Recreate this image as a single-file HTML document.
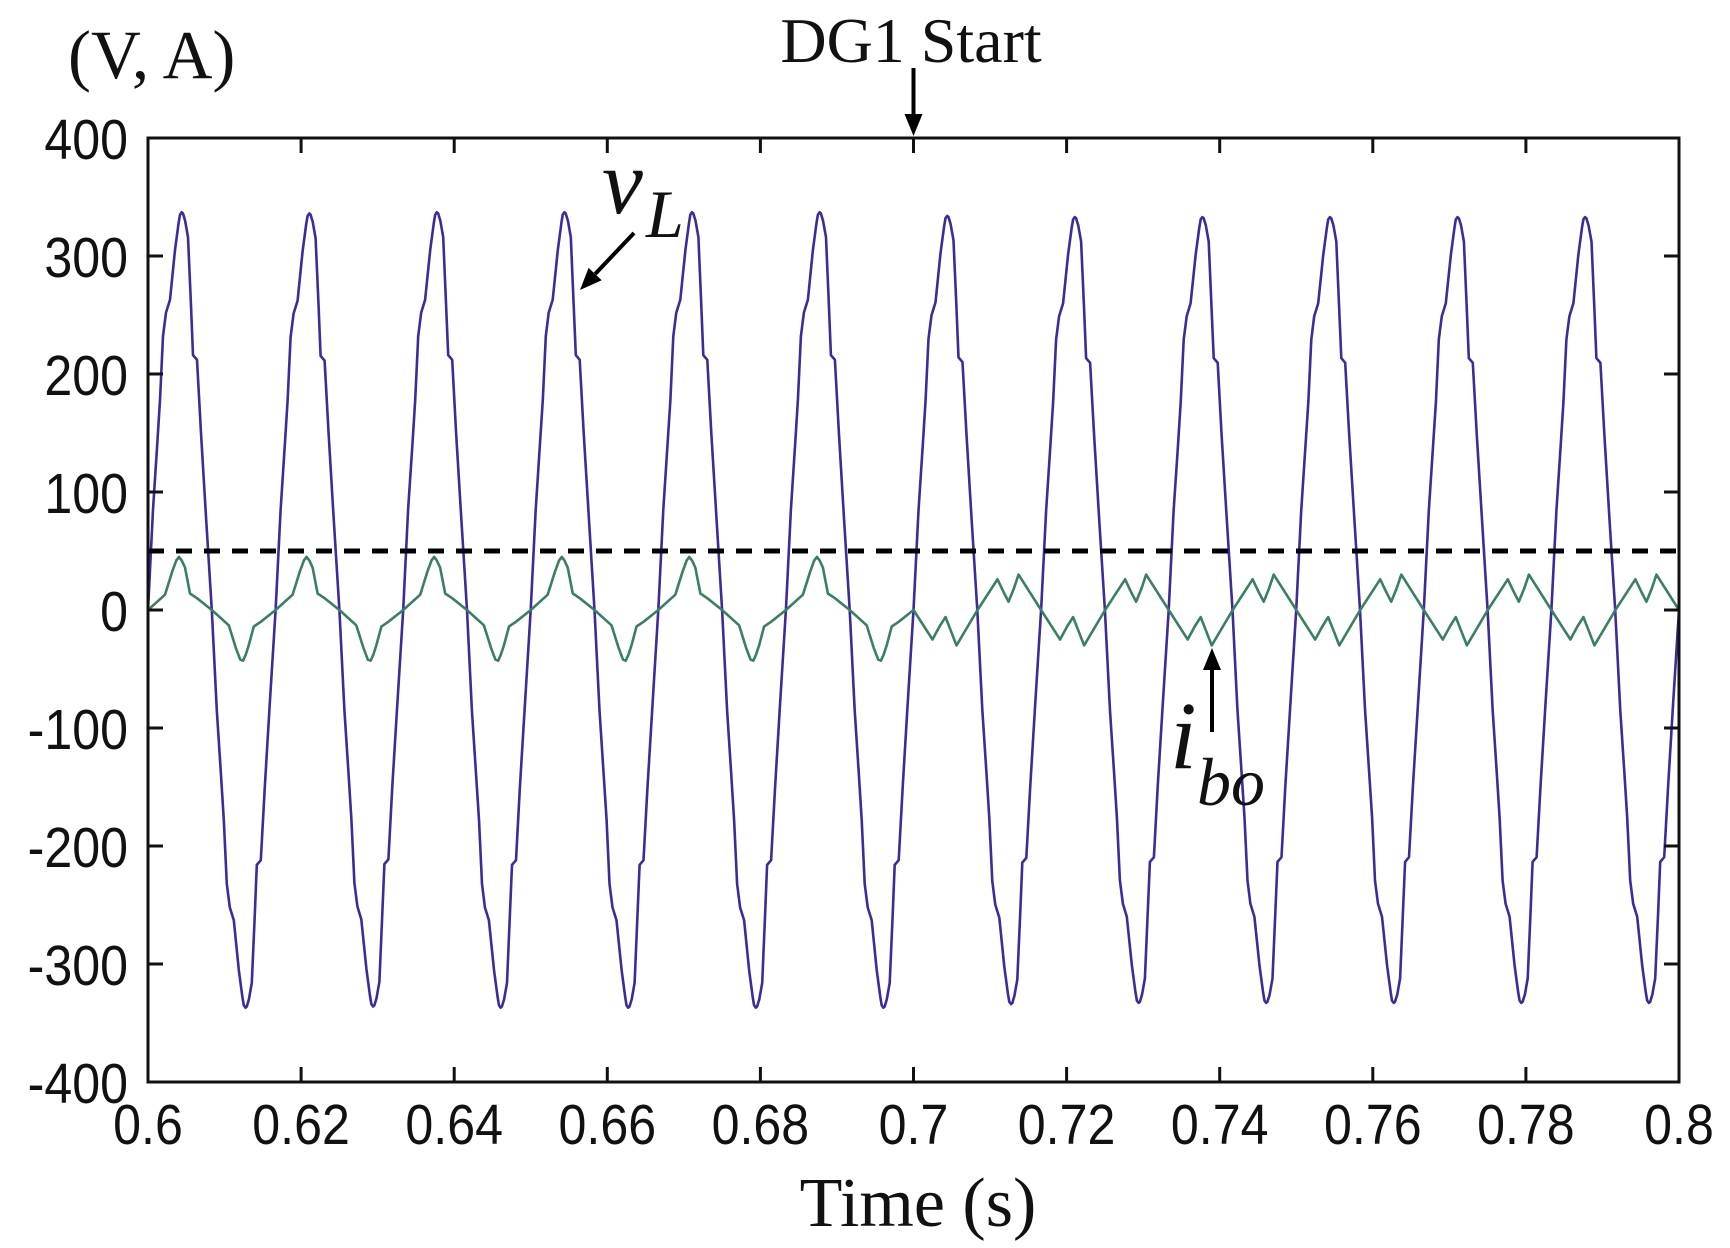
<!DOCTYPE html>
<html><head><meta charset="utf-8"><style>
html,body{margin:0;padding:0;background:#fff;}
svg{display:block;}
.tk{font-family:"Liberation Sans",sans-serif;font-size:57px;fill:#111;}
.sr{font-family:"Liberation Serif",serif;fill:#111;}
</style></head><body>
<svg id="chart" width="1730" height="1248" viewBox="0 0 1730 1248" xmlns="http://www.w3.org/2000/svg">
<g id="grid"></g>
<g id="series"></g>
<g id="axes"></g>
<g id="labels">
<text class="sr" x="68" y="78" font-size="69">(V, A)</text>
<text class="sr" x="911" y="62" font-size="64" text-anchor="middle">DG1 Start</text>
<text class="sr" x="918" y="1226" font-size="70" text-anchor="middle">Time (s)</text>
<g>
<text class="sr" x="602" y="213" font-size="92" font-style="italic">v</text>
<text class="sr" x="646" y="237" font-size="68" font-style="italic">L</text>
</g>
<g>
<text class="sr" x="1170" y="768" font-size="96" font-style="italic">i</text>
<text class="sr" x="1197" y="805" font-size="68" font-style="italic">bo</text>
</g>
</g>
</svg>
<script>
const xTicks=[0.6,0.62,0.64,0.66,0.68,0.7,0.72,0.74,0.76,0.78,0.8];
const xTickLabels=["0.6","0.62","0.64","0.66","0.68","0.7","0.72","0.74","0.76","0.78","0.8"];
const yTicks=[-400,-300,-200,-100,0,100,200,300,400];
const yTickLabels=["-400","-300","-200","-100","0","100","200","300","400"];
const vlHalfT=[0,0.65,1.2,1.57,1.96,2.35,2.87,3.53,4.0,4.18,4.4,4.57,4.85,5.23,5.6,5.88,6.4,6.92,7.58,8.333];
const vlHalfV=[0,85,140,178,232,252,263,305,328,335,337,336,330,316,260,216,212,150,79,0];
const vlPeak=[337,336,337,337,337,337,334,333,333,333,333,333];
const iboPreT=[0,2.22,3.14,3.7,4.05,4.4,4.83,5.49,6.4,8.333,10.55,11.47,12.05,12.41,12.76,13.16,13.82,14.73,16.667];
const iboPreV=[0,13,32,42,45,42,36,14,10,0,-13,-32,-42,-43,-38,-30,-14,-10,0];
const iboPostT=[0,2.48,3.4,4.18,4.9,5.62,8.36,10.97,11.7,12.41,13.1,13.72,16.667];
const iboPostV=[0,-25,-14,-6,-18,-30,0,26,16,7,18,30,0];
const dashLevel=50;
const DG1Time=0.7;
const period=1/60;

const L=148,R=1679,T=138,B=1082;
const xs=t=>L+(t-0.6)/0.2*(R-L);
const ys=v=>B-(v+400)/800*(B-T);
const NS="http://www.w3.org/2000/svg";
function mk(tag,attrs,parent){const e=document.createElementNS(NS,tag);for(const k in attrs)e.setAttribute(k,attrs[k]);parent.appendChild(e);return e;}
const axes=document.getElementById('axes'),series=document.getElementById('series');

let vpts=[];
for(let c=0;c<12;c++){
  const t0=0.6+c*period;const a=vlPeak[c]/337;
  for(let s=0;s<2;s++){
    const sg=s?-1:1;
    for(let i=0;i<vlHalfT.length;i++){
      if(i===0&&(c>0||s>0))continue;
      const t=t0+s*period/2+vlHalfT[i]/1000;
      vpts.push(xs(Math.min(t,0.8)).toFixed(1)+","+ys(sg*a*vlHalfV[i]).toFixed(1));
    }
  }
}
const vl=mk('polyline',{points:vpts.join(" "),fill:"none",stroke:"#3f2a98","stroke-width":2.6,"stroke-linejoin":"round"},series);



let ipts=[];
for(let c=0;c<12;c++){
  const t0=0.6+c*period;const pre=t0<DG1Time-1e-9;
  const TT=pre?iboPreT:iboPostT,VV=pre?iboPreV:iboPostV;
  for(let i=0;i<TT.length;i++){
    if(i===0&&c>0)continue;
    const t=Math.min(t0+TT[i]/1000,0.8);
    ipts.push(xs(t).toFixed(1)+","+ys(VV[i]).toFixed(1));
  }
}
const ib=mk('polyline',{points:ipts.join(" "),fill:"none",stroke:"#3a8060","stroke-width":2.6,"stroke-linejoin":"round"},series);



const dl=mk('line',{x1:L,x2:R,y1:ys(dashLevel),y2:ys(dashLevel),stroke:"#000","stroke-width":5,"stroke-dasharray":"16 12"},series);



const fr=mk('rect',{x:L,y:T,width:R-L,height:B-T,fill:"none",stroke:"#111","stroke-width":3},axes);


xTicks.forEach((t,i)=>{
  const x=xs(t);
  const a=mk('line',{x1:x,x2:x,y1:B,y2:B-15,stroke:"#111","stroke-width":3},axes);
  
  
  const b=mk('line',{x1:x,x2:x,y1:T,y2:T+15,stroke:"#111","stroke-width":3},axes);
  
  
  const tx=mk('text',{x:0,y:0,"text-anchor":"middle",class:"tk",transform:"translate("+x+","+(B+62)+") scale(0.88,1)"},axes);
  tx.textContent=xTickLabels[i];
  
  
});
yTicks.forEach((v,i)=>{
  const y=ys(v);
  const a=mk('line',{x1:L,x2:L+15,y1:y,y2:y,stroke:"#111","stroke-width":3},axes);
  
  
  const b=mk('line',{x1:R,x2:R-15,y1:y,y2:y,stroke:"#111","stroke-width":3},axes);
  
  
  const tx=mk('text',{x:0,y:0,"text-anchor":"end",class:"tk",transform:"translate(128,"+(y+21)+") scale(0.88,1)"},axes);
  tx.textContent=yTickLabels[i];
  
  
});

function arrow(x1,y1,x2,y2,name){
  const g=mk('g',{},axes);
  
  
  const ang=Math.atan2(y2-y1,x2-x1),h=22,w=9;
  const bx=x2-h*Math.cos(ang),by=y2-h*Math.sin(ang);
  mk('line',{x1:x1,y1:y1,x2:bx,y2:by,stroke:"#000","stroke-width":4},g);
  const p1=(bx+w*Math.sin(ang))+","+(by-w*Math.cos(ang)),p2=(bx-w*Math.sin(ang))+","+(by+w*Math.cos(ang));
  mk('polygon',{points:x2+","+y2+" "+p1+" "+p2,fill:"#000"},g);
}
arrow(xs(DG1Time),68,xs(DG1Time),T-2,'dg1-start-arrow');
arrow(634,233,580,290,'vl-arrow');
arrow(1212,732,1212,648,'ibo-arrow');
</script>
</body></html>
